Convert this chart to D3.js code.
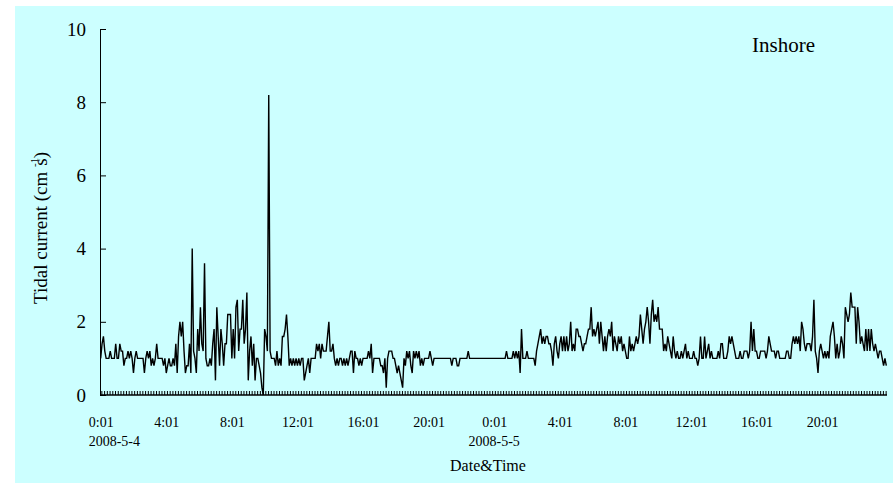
<!DOCTYPE html>
<html><head><meta charset="utf-8">
<script src="https://cdn.jsdelivr.net/npm/d3@7/dist/d3.min.js"></script>
<style>body{margin:0;background:#fff}svg{display:block}text{font-family:"Liberation Serif","Times New Roman",serif;fill:#000}</style>
</head><body><svg id="c" width="893" height="489"></svg>
<script>
// 5-minute records, 2008-5-4 0:01 to 2008-5-5 23:56 (576 values, cm s-1)
const seg1 = [1,1.4,1.6,1.2,1,1,1,1.2,1,1, 1,1.4,1,1,1.4,1.2,1.2,0.8,1,1, 1.2,1,1.2,1,0.6,1,1.2,1,1,1, 1,1,0.6,1,1.2,1,1.2,0.8,1,0.8, 1,1.4,1,1,1,1,0.8,1,0.6,0.8, 1,0.8,0.8,1,0.8,1.4,0.6,1.6,2,1.6, 2,1.2,0.6,0.8,0.8,1.4,0.6,4,1.2,1, 0.6,1.8,1.2,2.4,1.4,1.2,3.6,1,0.8,0.8, 1,0.8,1.4,1.8,0.4,2.4,1.6,0.8,1.8,1.4, 0.8,1.4,1.4,2.2,2.2,2.2,1];
const seg2 = [1.8,1,2.4,2.6,1.2,1.8,1.8,2.6,1.4,1.8, 2.8,0.4,1.2,1.6,0.8,1.4,0.4,1,1,0.8, 0.6,0.2,0,1.8,1.6,1.2,8.2,1.2,1,1, 1,0.8,1.2,0.8,1,0.8,1.6,1.6,1.8,2.2, 1.6,0.8,1,0.8,1,0.8,1,0.8,1,0.8, 1,1,0.4,0.6,0.8,1,0.6,1,1,1, 1,1.4,1.2,1.4,1,1.4,1.2,1.2,1.2,1.6, 2,1.2,1.2,1.4,1,0.8,1,0.8,1,1, 0.8,1,0.8,1,0.8,1,1.2,1.2,0.6,1.2, 1,1,0.8,1,0.8,1];
const seg3 = [1,1,1,1.2,1,1.4,0.6,1,1,1, 1,1,0.8,0.8,0.6,1,0.2,1,1.2,1.2, 1.2,1,1,0.8,0.6,0.8,0.6,0.4,0.2,1, 0.8,1.2,1,1.2,0.8,0.6,1.2,1,1.2,1, 1.2,0.8,1,0.8,1,1,1,1,1.2,1, 0.8,1, 1,1,1,1,1,1,1,1,1,1,1,1, 0.8,1,1,1,0.8,0.8,1,1,1,1,1,1, 1.2, 1,1,1,1,1,1,1,1,1,1,1,1,1,1,1,1,1,1,1,1];
const seg4 = [1,1,1,1,1,1,1,1.2,1,1, 1,1,1.2,1,1.2,1,1.2,0.6,1.8,1, 1,1,1.2,1,1,1,1,1, 0.8,1.2,1.4,1.6,1.8,1.4,1.6,1.4,1.6,1.6, 1.4,1.4,1.2,0.8,1.4,1.6,1.2,1,1.4,1.6, 1.2,1.6,1.2,1.6,1.2,1.4,2,1.2,1.4,1.2, 1.8,1.8,1.6,1.6,1.4,1.2,1.4,1.4,1.6,1.8, 1.8,2.4,1.6,1.8,1.6,1.8,2,1.4,2,1.6, 1.2,1.6,1.2,1.6,1.8,1.6,2,1.2,1.6,1.4, 1.2,1.6,1.4,1.6,1.2,1.4,1.2,1,1];
const seg5 = [1.6,1.2,1.4,1.2,1.4,1.6,1.4,1.6,2.2,1.8, 1.4,1.8,2,2.4,2,1.4,2.2,2.6,2,2.2, 2,2.4,1.8,1.8,1.8,1.2,1.4,1.2,1.6,1.4, 1.2,1,1.6,1.2,1,1.2,1,1,1.2,1, 1.2,1.4,1,1.2,1,1,1,1.2,1,1, 0.8,1,1.6,1,1,1.6,1,1.2,1.4,1, 1.2,1,1,1,1,1.2,1,1.4,1.4,1, 1,1,1.2,1.6,1.4,1.6,1.4,1.2,1,1, 1,1.2,1,1,1.2,1.2,1.2,1,1.2,2, 1.2,1.8,1.2,1.2,1,1];
const seg6 = [1.2,1.2,1.2,1.2,1,1.2,1.6,1.4,1.2,1.2, 1.2,1,1.2,1.2,1,1,1,1,1,1.2, 1.2,1,1,1.4,1.6,1.4,1.6,1.4,1.6,1.2, 2,1.8,1.4,1.2,1.4,1.4,1.4,1.2,1.6,2.6, 1.2,1,0.6,1.2,1.4,1.2,1,1.2,1,1.2, 1,1.6,1.8,2,1.6,1,1.4,1,1.2,1.6, 1.4,1,2.4,2.2,2,2.2,2.8,2.4,2.4,2.4, 1.4,2.4,2,1.4,1.6,1.4,1.2,1.8,1.2,1.8, 1.2,1.8,1.4,1.2,1.4,1.2,1,1.2,1.2,1, 0.8,1,0.8];
const current = [...seg1, ...seg2, ...seg3, ...seg4, ...seg5, ...seg6];

const timeLabels = ["0:01","4:01","8:01","12:01","16:01","20:01","0:01","4:01","8:01","12:01","16:01","20:01"];
const dateLabels = ["2008-5-4","2008-5-5"];
const yTicks = [0,2,4,6,8,10];
const pointsPerLabel = 48;

const svg = d3.select("#c");
svg.append("rect").attr("x",15).attr("y",6).attr("width",878).attr("height",477).attr("fill","#CCFFFF");

const L=100, R=887, T=29, B=395;
const n = current.length;
const x = d3.scaleLinear().domain([-0.5, n-0.5]).range([L, R]);
const y = d3.scaleLinear().domain([0,10]).range([B, T]);

// y axis
const ya = svg.append("g").attr("transform",`translate(${L},0)`)
  .call(d3.axisLeft(y).tickValues(yTicks).tickSize(-6).tickPadding(14).tickFormat(d3.format("d")));
ya.select(".domain").attr("stroke","#000").attr("stroke-width",1);
ya.selectAll(".tick line").attr("stroke","#000");
ya.selectAll("text").attr("font-size",19).attr("font-family","Liberation Serif");

// x axis minor ticks
const tickVals = d3.range(0.5, n-0.5, 2);
const xa = svg.append("g").attr("transform",`translate(0,${B})`)
  .call(d3.axisBottom(x).tickValues(tickVals).tickSize(-4).tickFormat(""));
xa.select(".domain").attr("stroke","#000").attr("stroke-width",1.5).attr("d",`M${L},0H${R}`);
xa.selectAll(".tick line").attr("stroke","#000");

// x labels
const labIdx = timeLabels.map((d,i)=>i*pointsPerLabel);
const xl = svg.append("g").attr("transform",`translate(0,${B})`)
  .call(d3.axisBottom(x).tickValues(labIdx).tickSize(0).tickPadding(22).tickFormat((d,i)=>timeLabels[i]));
xl.select(".domain").remove();
xl.selectAll("text").attr("font-size",14).attr("font-family","Liberation Serif");

svg.append("text").attr("x",x(0)-12).attr("y",446).attr("font-size",14).text(dateLabels[0]);
svg.append("text").attr("x",x(288)).attr("y",446).attr("text-anchor","middle").attr("font-size",14).text(dateLabels[1]);

svg.append("text").attr("x",488).attr("y",471).attr("text-anchor","middle").attr("font-size",16).text("Date&Time");

const yt = svg.append("text").attr("transform","translate(47,228) rotate(-90)").attr("text-anchor","middle").attr("font-size",19);
yt.append("tspan").text("Tidal current (cm ");
yt.append("tspan").attr("font-size",11).attr("dy",-9).text("-1");
yt.append("tspan").attr("dy",9).attr("dx",-8).text("s)");

svg.append("text").attr("x",752).attr("y",52).attr("font-size",21).text("Inshore");

// line
const line = d3.line().x((d,i)=>x(i)).y(d=>y(d));
svg.append("path").datum(current).attr("d",line).attr("fill","none").attr("stroke","#000").attr("stroke-width",1.4).attr("stroke-linejoin","miter");
</script></body></html>
